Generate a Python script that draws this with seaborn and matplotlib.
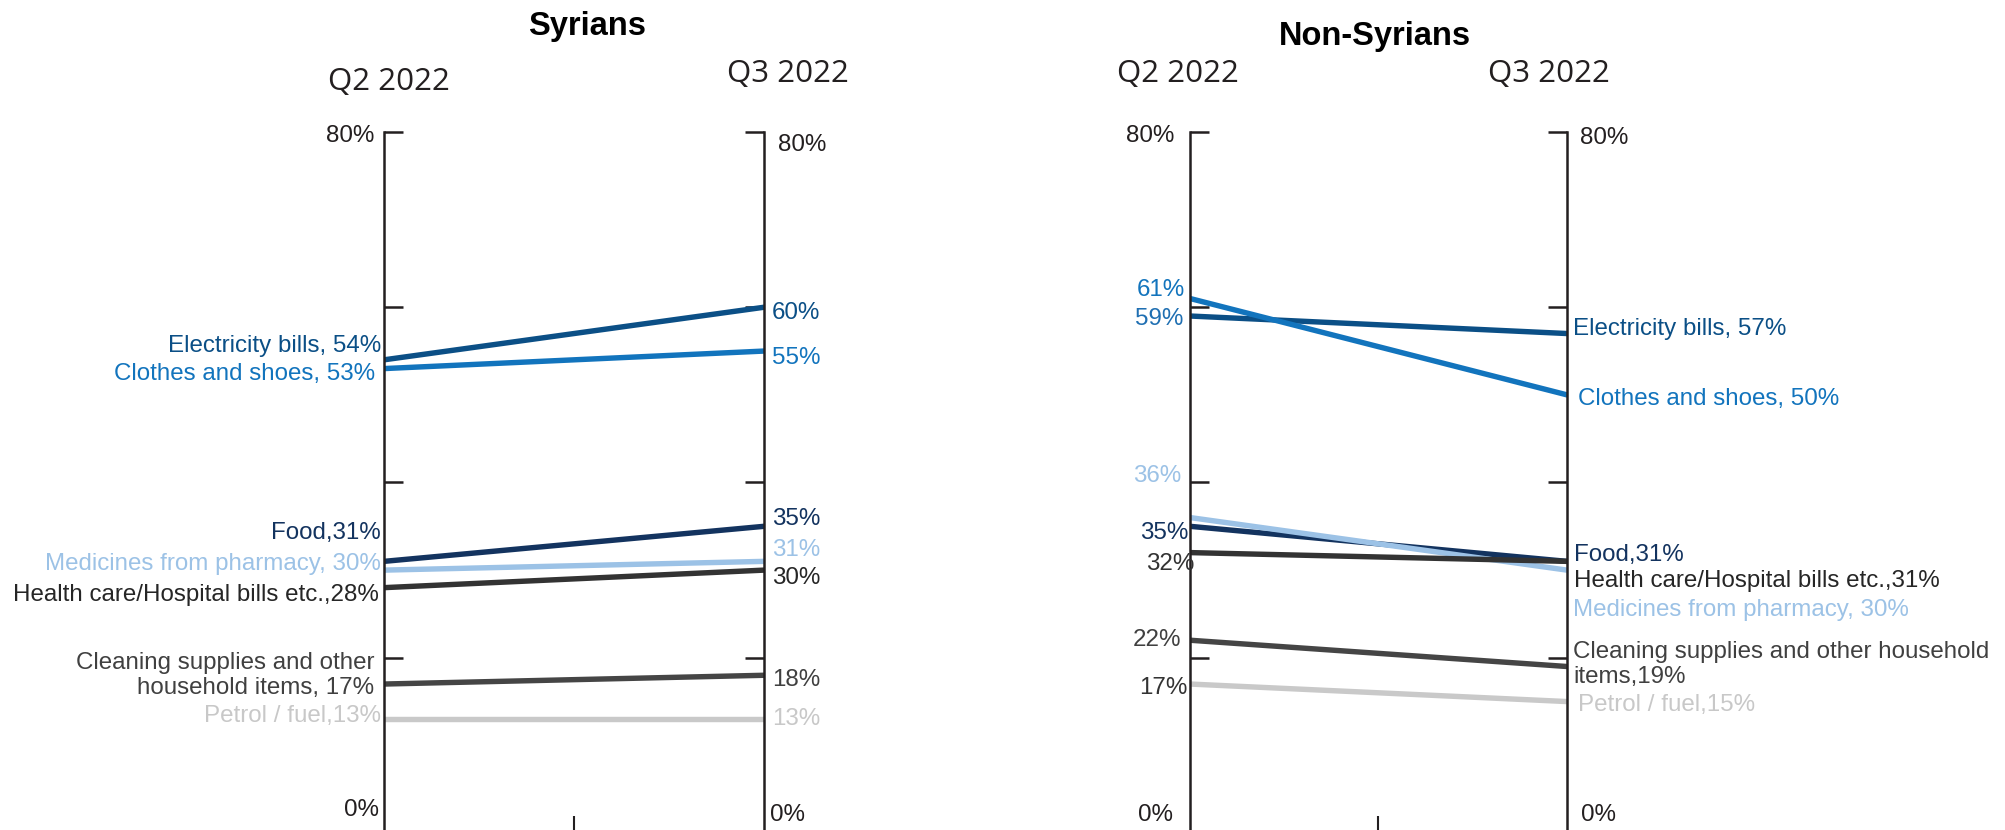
import numpy as np
import pandas as pd
import matplotlib
matplotlib.use("Agg")
import matplotlib.pyplot as plt
import seaborn as sns
from matplotlib import font_manager

# ---------------- data ----------------
categories = ["Electricity bills", "Clothes and shoes", "Food", "Medicines from pharmacy",
              "Health care/Hospital bills etc.", "Cleaning supplies and other household items",
              "Petrol / fuel"]
periods = ["Q2 2022", "Q3 2022"]
syrians_q2 = [54, 53, 31, 30, 28, 17, 13]
syrians_q3 = [60, 55, 35, 31, 30, 18, 13]
nonsyrians_q2 = [59, 61, 35, 36, 32, 22, 17]
nonsyrians_q3 = [57, 50, 31, 30, 31, 19, 15]

syr_left_labels = ["Electricity bills, 54%", "Clothes and shoes, 53%", "Food,31%",
                   "Medicines from pharmacy, 30%", "Health care/Hospital bills etc.,28%",
                   "Cleaning supplies and other\nhousehold items, 17%", "Petrol / fuel,13%"]
syr_right_labels = ["60%", "55%", "35%", "31%", "30%", "18%", "13%"]
non_left_labels = ["59%", "61%", "35%", "36%", "32%", "22%", "17%"]
non_right_labels = ["Electricity bills, 57%", "Clothes and shoes, 50%", "Food,31%",
                    "Medicines from pharmacy, 30%", "Health care/Hospital bills etc.,31%",
                    "Cleaning supplies and other household\nitems,19%", "Petrol / fuel,15%"]
axis_tick_values = [0, 20, 40, 60, 80]

# ---------------- styles / positions ----------------
line_colors = ["#0b4f86", "#1274bd", "#13335f", "#9cc2e6", "#333333", "#454545", "#c9c9c9"]
syr_label_colors = ["#0b4f86", "#1274bd", "#13335f", "#9cc2e6", "#262626", "#404040", "#c8c8c8"]
non_left_colors = ["#1f6fb2", "#1274bd", "#13335f", "#9cc2e6", "#333333", "#404040", "#333333"]
# vertical label positions (data units) and horizontal offsets (px)
syr_left_y = [55.6, 52.4, 34.2, 30.7, 27.2, 18.0, 13.4]
syr_right_y = [59.4, 54.2, 35.8, 32.3, 29.1, 17.5, 13.0]
non_left_y = [58.7, 62.0, 34.2, 40.7, 30.7, 22.0, 16.6]
non_right_y = [57.5, 49.5, 31.7, 25.5, 28.8, 19.2, 14.6]
syr_left_dx = [-3, -9, -3, -3, -5, -10, -3]
syr_right_dx = [8, 8, 8, 8, 8, 8, 8]
non_left_dx = [-7, -5, -2, -9, 4, -9, -2]
non_right_dx = [6, 11, 7, 6, 7, 6, 11]

sns.set_style("white")
names = {f.name for f in font_manager.fontManager.ttflist}
narrow = "Liberation Sans Narrow" if "Liberation Sans Narrow" in names else None
base = "Liberation Sans" if "Liberation Sans" in names else "DejaVu Sans"
head = "Open Sans" if "Open Sans" in names else base
plt.rcParams["font.family"] = [base, "DejaVu Sans"]

W, H = 2006, 830
fig = plt.figure(figsize=(W / 100, H / 100), dpi=100)


def fx(x):
    return x / W


def fy(y):
    return 1 - y / H


TOP = 132
BOT = 833
LABEL_FS = 17.4
AX_COLOR = "#231f20"


def make_panel(x0, x1, q2, q3, left_labels, right_labels, left_y, right_y,
               left_dx, right_dx, left_colors, right_colors):
    ax = fig.add_axes([fx(x0), fy(BOT), (x1 - x0) / W, (BOT - TOP) / H])
    df = pd.DataFrame({
        "item": categories * 2,
        "x": [0] * len(categories) + [1] * len(categories),
        "value": list(q2) + list(q3),
    })
    pal = dict(zip(categories, line_colors))
    sns.lineplot(data=df, x="x", y="value", hue="item", palette=pal, linewidth=3.9,
                 legend=False, ax=ax, sort=False)
    ax.set_xlim(0, 1)
    ax.set_ylim(0, 80)
    ax.set_xlabel("")
    ax.set_ylabel("")
    for s in ["top", "bottom"]:
        ax.spines[s].set_visible(False)
    for s in ["left", "right"]:
        ax.spines[s].set_visible(True)
        ax.spines[s].set_linewidth(1.8)
        ax.spines[s].set_color(AX_COLOR)
    ax.set_yticks(axis_tick_values)
    ax.tick_params(axis="y", left=True, right=True, direction="in", length=14, width=1.8,
                   color=AX_COLOR, labelleft=False, labelright=False)
    ax.set_xticks([0.5])
    ax.tick_params(axis="x", bottom=True, direction="in", length=12, width=1.5,
                   color=AX_COLOR, labelbottom=False)
    ax.grid(False)
    ax.patch.set_alpha(0)
    for i in range(len(categories)):
        ax.annotate(left_labels[i], xy=(0, left_y[i]), xycoords="data",
                    xytext=(left_dx[i] * 0.72, 0), textcoords="offset points",
                    ha="right", va="center", multialignment="right",
                    fontsize=LABEL_FS, color=left_colors[i], annotation_clip=False)
        ax.annotate(right_labels[i], xy=(1, right_y[i]), xycoords="data",
                    xytext=(right_dx[i] * 0.72, 0), textcoords="offset points",
                    ha="left", va="center", multialignment="left",
                    fontsize=LABEL_FS, color=right_colors[i], annotation_clip=False)
    return ax


ax1 = make_panel(384, 764, syrians_q2, syrians_q3, syr_left_labels, syr_right_labels,
                 syr_left_y, syr_right_y, syr_left_dx, syr_right_dx,
                 syr_label_colors, syr_label_colors)
ax2 = make_panel(1190, 1567, nonsyrians_q2, nonsyrians_q3, non_left_labels, non_right_labels,
                 non_left_y, non_right_y, non_left_dx, non_right_dx,
                 non_left_colors, syr_label_colors)

# titles
title_font = narrow if narrow else base
title_fs = 28 if narrow else 23.5
fig.text(fx(587), fy(27), "Syrians", ha="center", va="center", fontsize=title_fs,
         fontweight="bold", family=[title_font, "DejaVu Sans"], color="#000000")
fig.text(fx(1375), fy(36), "Non-Syrians", ha="center", va="center", fontsize=title_fs,
         fontweight="bold", family=[title_font, "DejaVu Sans"], color="#000000")

# period headers
hdr = [(389, 82), (788, 74), (1178, 74), (1549, 74)]
for (x, y), t in zip(hdr, periods * 2):
    fig.text(fx(x), fy(y), t, ha="center", va="center", fontsize=22.5,
             family=[head, "DejaVu Sans"], color="#231f20")

# axis end labels
ends = [(374, 136, "right", "80%"), (778, 145, "left", "80%"),
        (379, 810, "right", "0%"), (770, 815, "left", "0%"),
        (1174, 136, "right", "80%"), (1580, 138, "left", "80%"),
        (1173, 815, "right", "0%"), (1581, 815, "left", "0%")]
for x, y, ha, t in ends:
    fig.text(fx(x), fy(y), t, ha=ha, va="center", fontsize=LABEL_FS, color="#231f20")

fig.savefig("out.png", dpi=100)
